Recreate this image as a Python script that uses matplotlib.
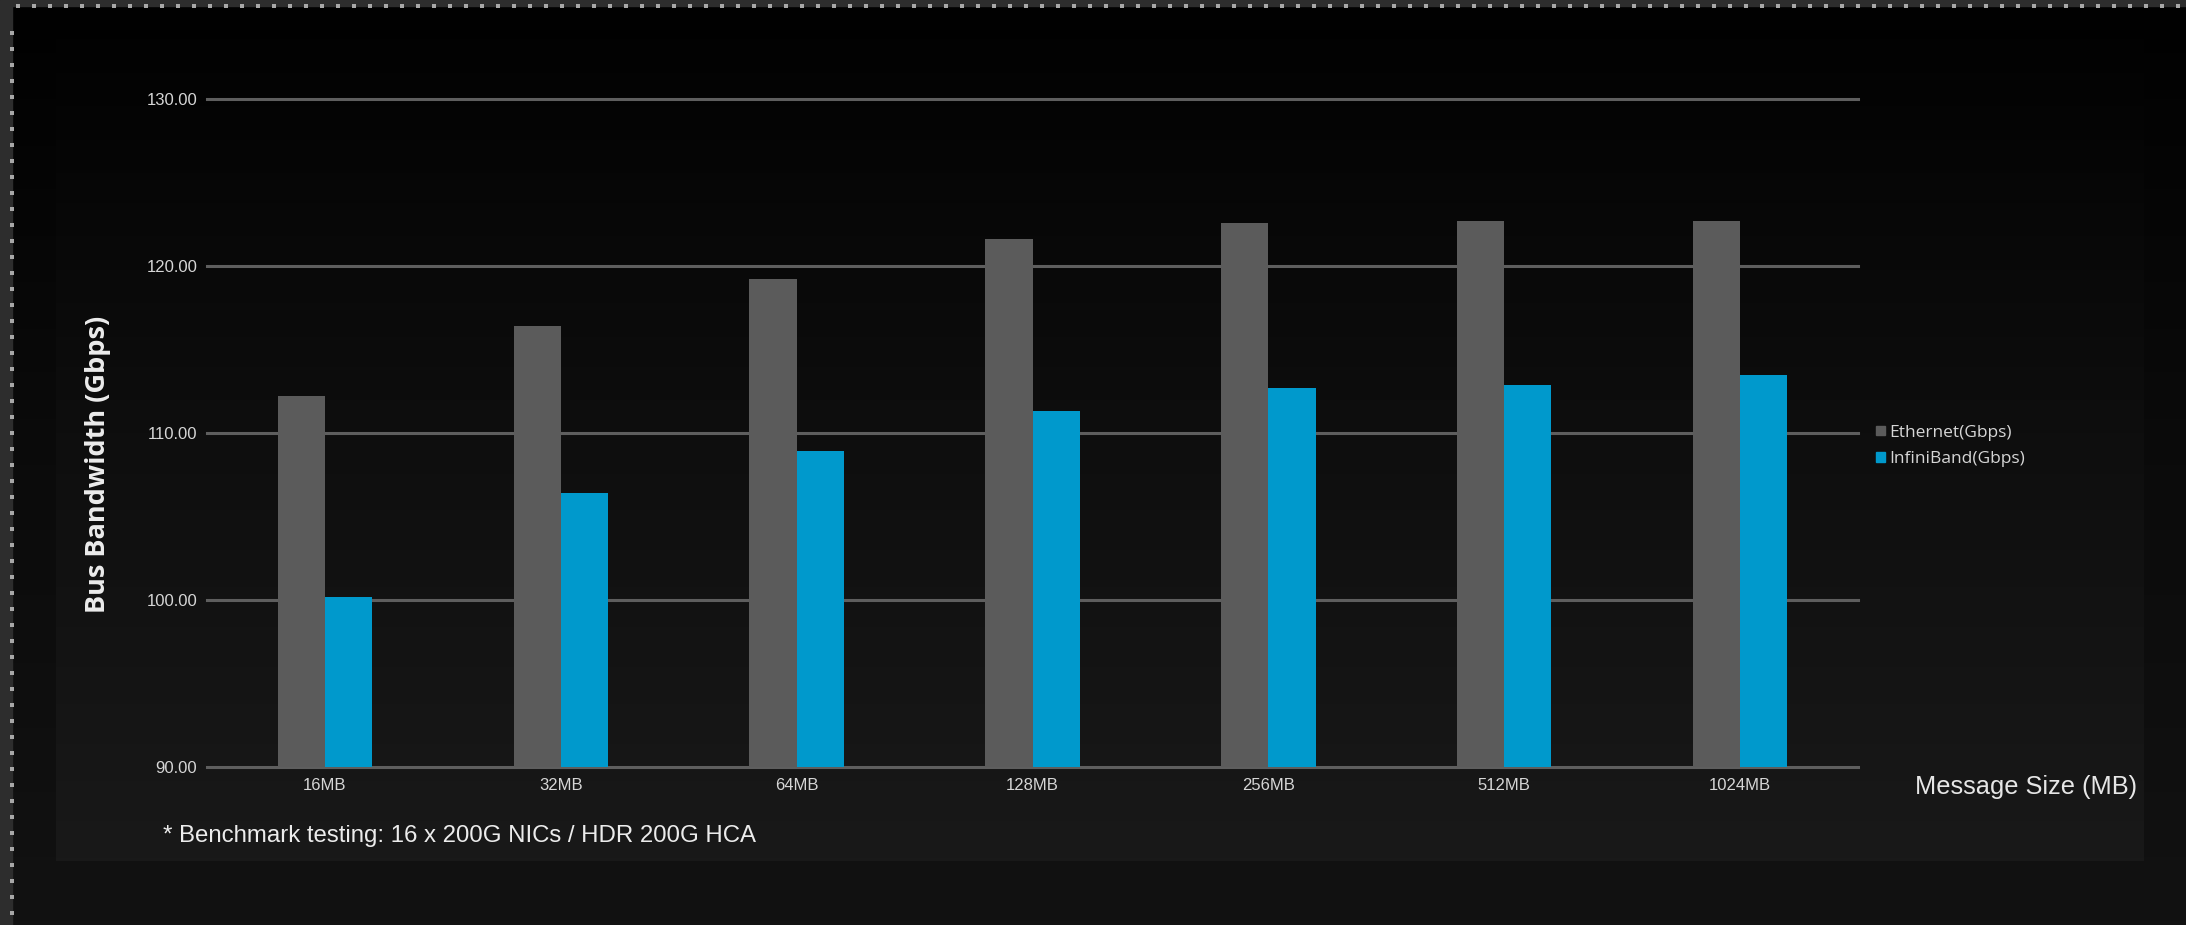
import numpy as np
import matplotlib.pyplot as plt
from matplotlib.colors import LinearSegmentedColormap
from matplotlib.patches import Patch, Rectangle

sizes = ["16MB", "32MB", "64MB", "128MB", "256MB", "512MB", "1024MB"]
ethernet = [112.2, 116.4, 119.2, 121.6, 122.6, 122.7, 122.7]
infiniband = [100.2, 106.4, 108.9, 111.3, 112.7, 112.9, 113.5]
y_ticks = [90, 100, 110, 120, 130]
series_names = ["Ethernet(Gbps)", "InfiniBand(Gbps)"]

GRAY = "#5b5b5b"
BLUE = "#0099cc"
GRID = "#5e5e5e"
TEXT = "#d6d6d6"
W, H = 2186, 925

fig = plt.figure(figsize=(W / 100, H / 100), dpi=100, facecolor="#0b0b0b")

# background: screenshot frame + dark gradient panel
bg = fig.add_axes([0, 0, 1, 1])
bg.set_xlim(0, W)
bg.set_ylim(H, 0)
bg.axis("off")
grad = np.linspace(0, 1, 256)[:, None]
panel_cmap = LinearSegmentedColormap.from_list("panel", ["#010101", "#0e0e0e", "#191919"])
side_cmap = LinearSegmentedColormap.from_list("side", ["#010101", "#0b0b0b", "#121212"])
bg.imshow(grad, extent=(12, W, H, 6), cmap=side_cmap, aspect="auto", zorder=0)
bg.imshow(grad, extent=(56, 2144, 861, 6), cmap=panel_cmap, aspect="auto", zorder=1)
bg.add_patch(Rectangle((0, 0), 12, H, color="#2d2d2d", zorder=2))
bg.add_patch(Rectangle((0, 0), W, 6, color="#2d2d2d", zorder=2))
dots_y = np.arange(33, H, 16)
dots_x = np.arange(18, W, 16)
bg.scatter(np.full(len(dots_y), 12), dots_y, marker="s", s=7, color="#a8a8a8", zorder=3, linewidths=0)
bg.scatter(dots_x, np.full(len(dots_x), 6), marker="s", s=7, color="#a8a8a8", zorder=3, linewidths=0)

ax = fig.add_axes([207 / W, 1 - 767 / H, (1858 - 207) / W, (767 - 99) / H])
ax.patch.set_alpha(0)

x = np.arange(len(sizes))
width = 0.2
ax.bar(x - width / 2, ethernet, width, color=GRAY, zorder=3)
ax.bar(x + width / 2, infiniband, width, color=BLUE, zorder=3)

for v in y_ticks:
    ax.axhline(v, color=GRID, linewidth=2.2, zorder=2, clip_on=False)

ax.set_xlim(-0.5, 6.5)
ax.set_ylim(90, 130)
ax.set_xticks(x)
ax.set_xticklabels(sizes)
ax.set_yticks(y_ticks)
ax.set_yticklabels([f"{v:.2f}" for v in y_ticks])
for s in ax.spines.values():
    s.set_visible(False)
ax.tick_params(axis="both", length=0, colors=TEXT, labelsize=12)
ax.tick_params(axis="y", pad=7)
ax.tick_params(axis="x", pad=8)
for lbl in ax.get_xticklabels() + ax.get_yticklabels():
    lbl.set_family("Liberation Sans")

handles = [Patch(color=GRAY), Patch(color=BLUE)]
fig.legend(handles, series_names, loc="center left", bbox_to_anchor=(1876 / W, 1 - 446 / H),
           frameon=False, handlelength=0.5, handleheight=0.5, handletextpad=0.25,
           labelspacing=0.62, borderpad=0, borderaxespad=0,
           prop={"family": "Open Sans", "size": 12.5}, labelcolor=TEXT)

fig.text(98 / W, 1 - 464 / H, "Bus Bandwidth (Gbps)", rotation=90, ha="center", va="center",
         color="#ececec", fontsize=19.5, fontweight="bold", family="Open Sans")
fig.text(1915 / W, 1 - 787 / H, "Message Size (MB)", ha="left", va="center",
         color="#e6e6e6", fontsize=18.3, family="Liberation Sans")
fig.text(163 / W, 1 - 836 / H, "* Benchmark testing: 16 x 200G NICs / HDR 200G HCA", ha="left",
         va="center", color="#ececec", fontsize=17.3, family="Liberation Sans")

fig.savefig("out.png", dpi=100, facecolor=fig.get_facecolor())
